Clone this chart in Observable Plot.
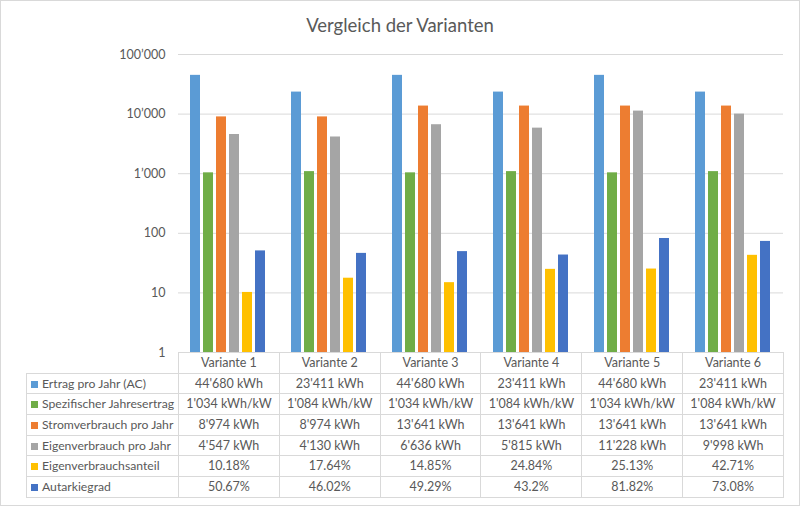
<!DOCTYPE html>
<html><head><meta charset="utf-8">
<script src="https://cdn.jsdelivr.net/npm/d3@7"></script>
<script src="https://cdn.jsdelivr.net/npm/@observablehq/plot@0.6"></script>
<style>
body{margin:0;background:#fff;}
#chart{position:relative;width:800px;height:506px;background:#fff;font-family:Lato,sans-serif;color:#595959;overflow:hidden}
#frame{position:absolute;left:0;top:0;width:800px;height:506px;box-sizing:border-box;border:1px solid #d9d9d9;pointer-events:none}
#title{position:absolute;left:0;top:12px;width:800px;text-align:center;font-size:18.5px;line-height:26px}
.layer{position:absolute;left:0;top:40px}
table{position:absolute;left:26px;top:352px;border-collapse:collapse;table-layout:fixed;font-size:12.5px;color:#595959}
tr{height:20.7px}
td{border:1px solid #d9d9d9;padding:0;text-align:center;white-space:nowrap;line-height:18px}
td.name{text-align:left;padding-left:4px;font-size:12.2px}
.key{display:inline-block;width:7px;height:7px;margin-right:4px;vertical-align:0px}
</style></head>
<body>
<div id="chart">
  <div id="title">Vergleich der Varianten</div>
  <div id="grid" class="layer"></div>
  <div id="bars" class="layer"></div>
  <table id="tbl"></table>
  <div id="frame"></div>
</div>
<script>
const variants = ["Variante 1","Variante 2","Variante 3","Variante 4","Variante 5","Variante 6"];
const seriesNames = ["Ertrag pro Jahr (AC)","Spezifischer Jahresertrag","Stromverbrauch pro Jahr","Eigenverbrauch pro Jahr","Eigenverbrauchsanteil","Autarkiegrad"];
const seriesColors = ["#5B9BD5","#70AD47","#ED7D31","#A5A5A5","#FFC000","#4472C4"];
const seriesUnits = [" kWh"," kWh/kW"," kWh"," kWh","%","%"];
const ertrag = [44680, 23411, 44680, 23411, 44680, 23411];
const spezifisch = [1034, 1084, 1034, 1084, 1034, 1084];
const stromverbrauch = [8974, 8974, 13641, 13641, 13641, 13641];
const eigenverbrauch = [4547, 4130, 6636, 5815, 11228, 9998];
const eigenanteil = [10.18, 17.64, 14.85, 24.84, 25.13, 42.71];
const autarkie = [50.67, 46.02, 49.29, 43.2, 81.82, 73.08];
const yTicks = [1, 10, 100, 1000, 10000, 100000];
const yTickLabels = ["1", "10", "100", "1’000", "10’000", "100’000"];

const seriesValues = [ertrag, spezifisch, stromverbrauch, eigenverbrauch, eigenanteil, autarkie];
const data = [];
seriesNames.forEach((s, si) => variants.forEach((v, vi) => data.push({series: s, variant: v, value: seriesValues[si][vi]})));

const common = {width: 800, height: 320, marginLeft: 178, marginRight: 17, marginTop: 14, marginBottom: 8,
  style: {fontFamily: "Lato, sans-serif", fontSize: "12.5px", color: "#595959", background: "transparent"}};

document.getElementById("grid").append(Plot.plot({
  ...common,
  y: {type: "log", domain: [1, 100000]},
  marks: [
    Plot.ruleY(yTicks.slice(1), {stroke: "#d9d9d9", strokeWidth: 1}),
    Plot.axisY(yTicks, {tickSize: 0, tickPadding: 13, tickFormat: d => yTickLabels[yTicks.indexOf(d)], fontSize: 12.5})
  ]
}));

document.getElementById("bars").append(Plot.plot({
  ...common,
  fx: {domain: variants, paddingInner: 0.23, paddingOuter: 0.11, axis: null},
  x: {domain: seriesNames, paddingInner: 0.22, paddingOuter: 0, axis: null},
  y: {type: "log", domain: [1, 100000], axis: null},
  color: {domain: seriesNames, range: seriesColors},
  marks: [
    Plot.barY(data, {fx: "variant", x: "series", y1: 1, y2: "value", fill: "series"})
  ]
}));

const fmt = d3.formatLocale({thousands: "'", grouping: [3], decimal: "."});
const intFmt = fmt.format(",d");
const tbl = document.getElementById("tbl");
let html = '<colgroup><col style="width:152px">' + variants.map(() => '<col style="width:100.83px">').join("") + '</colgroup>';
html += '<tr><td style="border-top:none;border-left:none"></td>' + variants.map(v => `<td>${v}</td>`).join("") + '</tr>';
seriesNames.forEach((s, si) => {
  html += `<tr><td class="name"><span class="key" style="background:${seriesColors[si]}"></span>${s}</td>` +
    seriesValues[si].map(v => `<td>${seriesUnits[si] === "%" ? String(v) : intFmt(v)}${seriesUnits[si]}</td>`).join("") + '</tr>';
});
tbl.innerHTML = html;
</script>
</body></html>
